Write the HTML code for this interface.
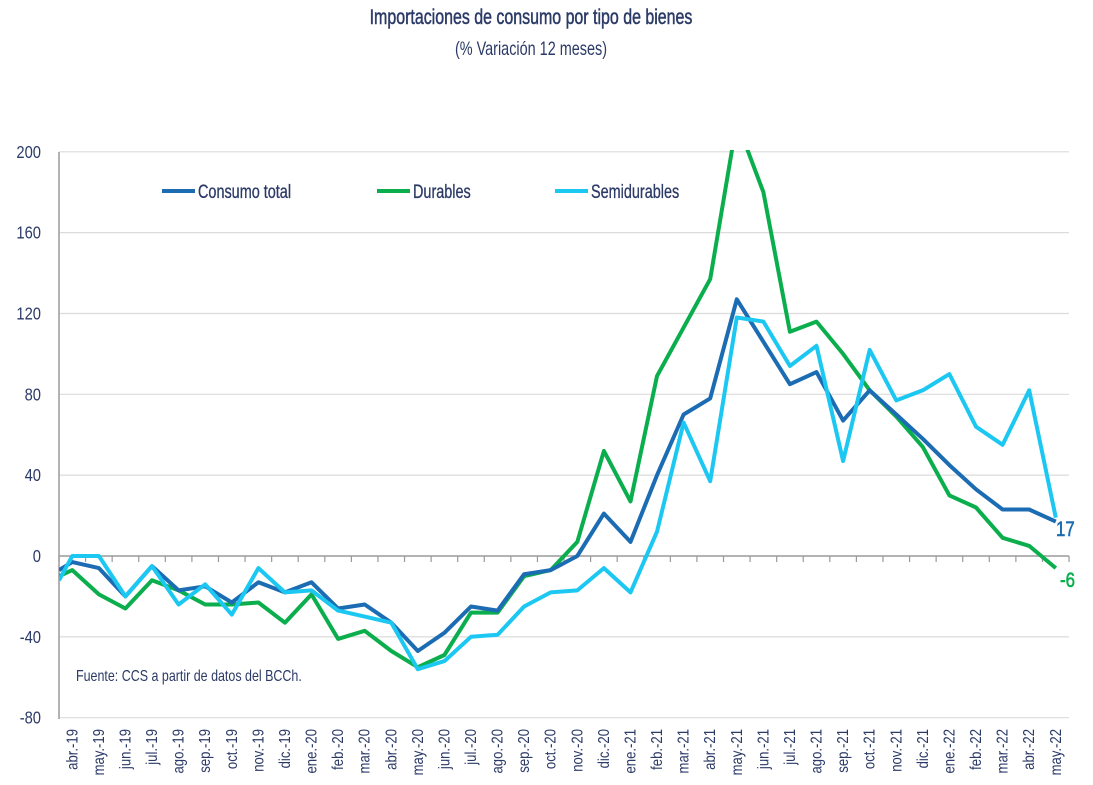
<!DOCTYPE html>
<html><head><meta charset="utf-8"><style>
html,body{margin:0;padding:0;background:#fff;}
svg{display:block;font-family:"Liberation Sans",sans-serif;}
</style></head><body>
<svg id="c" width="1093" height="785" viewBox="0 0 1093 785" xmlns="http://www.w3.org/2000/svg">
<defs><clipPath id="pc"><rect x="59" y="150" width="1012" height="570"/></clipPath></defs>
<g transform="translate(531,0) scale(0.76,1)"><text x="0" y="24" text-anchor="middle" font-size="21" font-weight="normal" stroke="#2b3a67" stroke-width="0.5" fill="#2b3a67">Importaciones de consumo por tipo de bienes</text>
<text x="0" y="55" text-anchor="middle" font-size="19" fill="#2b3a67">(% Variación 12 meses)</text></g>
<g id="grid"></g>
<g id="lines" clip-path="url(#pc)"></g>
<g id="labels"></g>
<line x1="162" y1="191" x2="195" y2="191" stroke="#1b6cb3" stroke-width="4"/>
<line x1="377" y1="191" x2="410" y2="191" stroke="#0aae4c" stroke-width="4"/>
<line x1="555" y1="191" x2="588" y2="191" stroke="#1cc8f2" stroke-width="4"/>
<g font-size="19" fill="#2b3a67">
<text transform="translate(198,198) scale(0.76,1)" stroke="#2b3a67" stroke-width="0.3">Consumo total</text>
<text transform="translate(413,198) scale(0.76,1)" stroke="#2b3a67" stroke-width="0.3">Durables</text>
<text transform="translate(591,198) scale(0.76,1)" stroke="#2b3a67" stroke-width="0.3">Semidurables</text>
<text transform="translate(76,681) scale(0.78,1)" font-size="16">Fuente: CCS a partir de datos del BCCh.</text>
<text transform="translate(1056,536) scale(0.8,1)" font-size="21" fill="#1b6cb3" stroke="#1b6cb3" stroke-width="0.6">17</text>
<text transform="translate(1060,587) scale(0.8,1)" font-size="21" fill="#0aae4c" stroke="#0aae4c" stroke-width="0.6">-6</text>
</g>
</svg>
<script>
const NS="http://www.w3.org/2000/svg";
const yv=v=>556-v*2.021;
const step=26.58, x0=59;
const xi=i=>x0+step*(i+0.5);
function el(p,t,a,txt){const e=document.createElementNS(NS,t);for(const k in a)e.setAttribute(k,a[k]);if(txt!==undefined)e.textContent=txt;p.appendChild(e);return e;}
const g=document.getElementById('grid'),L=document.getElementById('labels'),ln=document.getElementById('lines');
for(let v=200;v>=-80;v-=40){
 if(v!==0) el(g,'line',{x1:59,x2:1069,y1:yv(v),y2:yv(v),stroke:'#dcdcdc','stroke-width':1.2});
 el(L,'text',{x:0,y:0,'font-size':18,fill:'#2b3a67','text-anchor':'end',transform:`translate(41,${yv(v)+6}) scale(0.82,1)`},String(v));
}
el(g,'line',{x1:59,x2:59,y1:152,y2:719,stroke:'#9a9a9a','stroke-width':1.5});
el(g,'line',{x1:59,x2:1069,y1:556,y2:556,stroke:'#9a9a9a','stroke-width':1.5});
for(let k=0;k<=38;k++) el(g,'line',{x1:x0+step*k,x2:x0+step*k,y1:556,y2:562,stroke:'#9a9a9a','stroke-width':1.2});
const months=['ene','feb','mar','abr','may','jun','jul','ago','sep','oct','nov','dic'];
for(let i=0;i<38;i++){const m=(3+i)%12,yr=19+Math.floor((3+i)/12);
 el(L,'text',{x:0,y:0,'font-size':16,fill:'#2b3a67','text-anchor':'end',transform:`translate(${xi(i)+5},729) rotate(-90) scale(0.82,1)`},months[m]+'.-'+yr);}
const ct=[-3,-6,-20,-5,-17,-15,-23,-13,-18,-13,-26,-24,-33,-47,-38,-25,-27,-9,-7,0,21,7,40,70,78,127,106,85,91,67,82,70,58,45,33,23,23,17];
const du=[-7,-19,-26,-12,-17,-24,-24,-23,-33,-19,-41,-37,-47,-55,-49,-28,-28,-10,-7,7,52,27,89,113,137,215,180,111,116,100,82,69,54,30,24,9,5,-6];
const se=[0,0,-20,-5,-24,-14,-29,-6,-18,-17,-27,-30,-33,-56,-52,-40,-39,-25,-18,-17,-6,-18,12,66,37,118,116,94,104,47,102,77,82,90,64,55,82,19];
function path(d,s0,col){let p=`M${x0},${yv(s0)}`;d.forEach((v,i)=>p+=`L${xi(i).toFixed(1)},${yv(v).toFixed(1)}`);
 el(ln,'path',{d:p,fill:'none',stroke:col,'stroke-width':4,'stroke-linejoin':'round'});}
path(du,-10,'#0aae4c');path(ct,-7,'#1b6cb3');path(se,-12,'#1cc8f2');
</script>
</body></html>
